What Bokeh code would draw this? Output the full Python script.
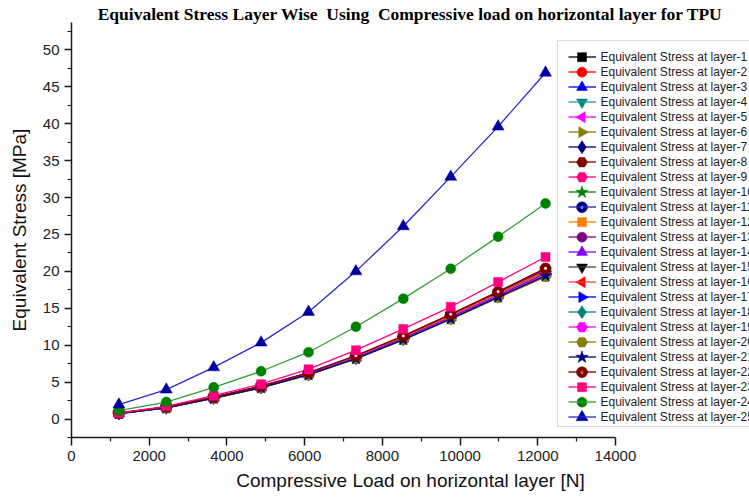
import math

from bokeh.embed import file_html
from bokeh.models import (BoxAnnotation, FixedTicker, Legend, LegendItem,
                          Range1d)
from bokeh.plotting import figure
from bokeh.resources import INLINE

# Compressive load applied on the horizontal layer [N]
load_n = [1220, 2440, 3660, 4880, 6100, 7320, 8540, 9760, 10980, 12200]

# Equivalent stress [MPa] for each layer
stress_layer_1 = [0.78, 1.58, 2.90, 4.35, 6.15, 8.40, 11.05, 13.95, 16.95, 19.95]
stress_layer_2 = [0.79, 1.60, 2.92, 4.38, 6.18, 8.45, 11.10, 14.00, 17.05, 20.10]
stress_layer_3 = [0.76, 1.55, 2.86, 4.30, 6.08, 8.30, 10.90, 13.75, 16.75, 19.70]
stress_layer_4 = [0.77, 1.56, 2.88, 4.32, 6.10, 8.33, 10.95, 13.80, 16.80, 19.75]
stress_layer_5 = [0.78, 1.57, 2.89, 4.34, 6.13, 8.38, 11.00, 13.90, 16.90, 19.85]
stress_layer_6 = [0.74, 1.52, 2.82, 4.25, 6.00, 8.20, 10.78, 13.60, 16.55, 19.45]
stress_layer_7 = [0.75, 1.53, 2.84, 4.27, 6.03, 8.24, 10.82, 13.65, 16.62, 19.55]
stress_layer_8 = [0.80, 1.62, 2.95, 4.42, 6.22, 8.50, 11.18, 14.10, 17.15, 20.30]
stress_layer_9 = [0.81, 1.63, 2.97, 4.45, 6.26, 8.55, 11.22, 14.15, 17.22, 20.40]
stress_layer_10 = [0.77, 1.56, 2.87, 4.31, 6.09, 8.32, 10.93, 13.78, 16.78, 19.72]
stress_layer_11 = [0.78, 1.58, 2.90, 4.36, 6.14, 8.40, 11.03, 13.92, 16.93, 19.90]
stress_layer_12 = [0.77, 1.57, 2.88, 4.33, 6.11, 8.35, 10.97, 13.83, 16.85, 19.80]
stress_layer_13 = [0.80, 1.61, 2.94, 4.40, 6.20, 8.47, 11.13, 14.05, 17.10, 20.20]
stress_layer_14 = [0.76, 1.54, 2.85, 4.29, 6.06, 8.27, 10.87, 13.70, 16.68, 19.62]
stress_layer_15 = [0.79, 1.61, 2.93, 4.39, 6.19, 8.46, 11.12, 14.02, 17.08, 20.15]
stress_layer_16 = [0.79, 1.59, 2.91, 4.37, 6.16, 8.42, 11.07, 13.97, 17.00, 20.02]
stress_layer_17 = [0.76, 1.55, 2.86, 4.30, 6.07, 8.29, 10.89, 13.73, 16.72, 19.66]
stress_layer_18 = [0.75, 1.53, 2.83, 4.26, 6.02, 8.22, 10.80, 13.62, 16.58, 19.50]
stress_layer_19 = [0.75, 1.54, 2.84, 4.28, 6.04, 8.25, 10.84, 13.67, 16.64, 19.58]
stress_layer_20 = [0.73, 1.50, 2.80, 4.22, 5.96, 8.14, 10.70, 13.50, 16.42, 19.25]
stress_layer_21 = [0.74, 1.52, 2.82, 4.24, 6.00, 8.19, 10.76, 13.57, 16.52, 19.40]
stress_layer_22 = [0.81, 1.64, 2.98, 4.46, 6.28, 8.58, 11.25, 14.20, 17.25, 20.40]
stress_layer_23 = [0.82, 1.72, 3.17, 4.72, 6.75, 9.32, 12.20, 15.20, 18.55, 21.95]
stress_layer_24 = [1.14, 2.30, 4.30, 6.47, 9.05, 12.50, 16.30, 20.35, 24.70, 29.20]
stress_layer_25 = [1.95, 3.98, 7.00, 10.35, 14.50, 20.00, 26.10, 32.80, 39.60, 46.90]

layer_numbers = list(range(1, 26))
x_ticks = [0, 2000, 4000, 6000, 8000, 10000, 12000, 14000]
y_ticks = [0, 5, 10, 15, 20, 25, 30, 35, 40, 45, 50]

stress_by_layer = [
    stress_layer_1, stress_layer_2, stress_layer_3, stress_layer_4, stress_layer_5,
    stress_layer_6, stress_layer_7, stress_layer_8, stress_layer_9, stress_layer_10,
    stress_layer_11, stress_layer_12, stress_layer_13, stress_layer_14, stress_layer_15,
    stress_layer_16, stress_layer_17, stress_layer_18, stress_layer_19, stress_layer_20,
    stress_layer_21, stress_layer_22, stress_layer_23, stress_layer_24, stress_layer_25,
]

# (line colour, marker colour, marker, angle, size, sphere highlight)
LEFT = math.pi / 2
RIGHT = -math.pi / 2
styles = [
    ("#000000", "#000000", "square", 0, 9, False),
    ("#ff0000", "#ff0000", "circle", 0, 10, False),
    ("#0000ff", "#0000ff", "triangle", 0, 11, False),
    ("#2a9a9a", "#008080", "inverted_triangle", 0, 11, False),
    ("#ff00ff", "#ff00ff", "triangle", LEFT, 11, False),
    ("#808000", "#808000", "triangle", RIGHT, 11, False),
    ("#000080", "#000080", "diamond", 0, 13, False),
    ("#800000", "#800000", "hex", 0, 11, False),
    ("#ff0080", "#ff0080", "hex", 0, 11, False),
    ("#008000", "#008000", "star", 0, 13, False),
    ("#2020b0", "#000080", "circle", 0, 11, True),
    ("#ff8000", "#ff8000", "square", 0, 9, False),
    ("#800080", "#800080", "circle", 0, 10, False),
    ("#8000ff", "#8000ff", "triangle", 0, 11, False),
    ("#404040", "#000000", "inverted_triangle", 0, 11, False),
    ("#ff4040", "#ff0000", "triangle", LEFT, 11, False),
    ("#0000ff", "#0000ff", "triangle", RIGHT, 11, False),
    ("#008080", "#008080", "diamond", 0, 13, False),
    ("#ff00ff", "#ff00ff", "hex", 0, 11, False),
    ("#808000", "#808000", "hex", 0, 11, False),
    ("#000080", "#000080", "star", 0, 13, False),
    ("#800000", "#800000", "circle", 0, 11, True),
    ("#ff0080", "#ff0080", "square", 0, 9, False),
    ("#30a030", "#008000", "circle", 0, 10, False),
    ("#2828c8", "#0000a0", "triangle", 0, 12, False),
]

W, H = 749, 500
FRAME_L, FRAME_T, FRAME_B = 71, 22, 63
X_END = 17450
Y_START, Y_END = -2.5, 53.7

p = figure(
    width=W, height=H,
    output_backend="svg", toolbar_location=None,
    x_range=Range1d(0, X_END), y_range=Range1d(Y_START, Y_END),
    min_border_left=FRAME_L, min_border_right=0,
    min_border_top=FRAME_T, min_border_bottom=FRAME_B,
    background_fill_color="white", border_fill_color="white",
)
p.outline_line_color = None
p.grid.visible = False

p.title.text = ("Equivalent Stress Layer Wise\u00a0\u00a0Using\u00a0\u00a0"
                "Compressive load on horizontal layer for TPU")
p.title.text_font = "Liberation Serif"
p.title.text_font_size = "17.5px"
p.title.text_font_style = "bold"
p.title.text_color = "#000000"
p.title.align = "center"
p.title.standoff = -2

# axes
for ax in (p.xaxis[0], p.yaxis[0]):
    ax.axis_line_color = "#1a1a1a"
    ax.axis_line_width = 1.5
    ax.major_tick_line_color = "#1a1a1a"
    ax.minor_tick_line_color = "#1a1a1a"
    ax.major_tick_line_width = 1.5
    ax.minor_tick_line_width = 1.2
    ax.major_tick_in = 0
    ax.minor_tick_in = 0
    ax.major_label_text_font = "Liberation Sans"
    ax.major_label_text_font_size = "15px"
    ax.major_label_text_color = "#222222"
    ax.axis_label_text_font = "Liberation Sans"
    ax.axis_label_text_font_size = "19px"
    ax.axis_label_text_font_style = "normal"
    ax.axis_label_text_color = "#111111"
    ax.major_label_standoff = 5

p.xaxis.axis_label = "Compressive Load on horizontal layer [N]"
p.xaxis.ticker = FixedTicker(ticks=x_ticks,
                             minor_ticks=[t + 1000 for t in x_ticks[:-1]])
p.xaxis.bounds = (x_ticks[0], x_ticks[-1])
p.xaxis.major_tick_out = 8
p.xaxis.minor_tick_out = 4
p.xaxis.axis_label_standoff = 6

p.yaxis.axis_label = "Equivalent Stress [MPa]"
p.yaxis.ticker = FixedTicker(ticks=y_ticks,
                             minor_ticks=[t - 2.5 for t in y_ticks] + [52.5])
p.yaxis.major_tick_out = 7
p.yaxis.minor_tick_out = 4
p.yaxis.axis_label_standoff = 10

# pixel <-> data helpers for placing the legend pieces
frame_w = W - FRAME_L
frame_h = H - FRAME_T - FRAME_B


def px_x(px):
    return (px - FRAME_L) / frame_w * X_END


def px_y(py):
    return Y_END - (py - FRAME_T) / frame_h * (Y_END - Y_START)


# legend layout (pixels)
ROW_H = 15
LEG_GLYPH_LEFT = 567.5
LEG_GLYPH_W = 28
LEG_FIRST_ROW_TOP = 49.2

# series
items = []
for i, (n, ys, st) in enumerate(zip(layer_numbers, stress_by_layer, styles)):
    lc, mc, mk, ang, sz, sphere = st
    r_line = p.line(load_n, ys, line_color=lc, line_width=1.3)
    p.scatter(load_n, ys, marker=mk, angle=ang, size=sz,
              fill_color=mc, line_color=mc, line_width=0.5)
    if sphere:
        p.scatter(load_n, ys, marker="circle", size=2.6,
                  fill_color="white", line_color="white", line_width=0.3)
    items.append(LegendItem(label=f"Equivalent Stress at layer-{n}", renderers=[r_line]))

    # full-size key marker drawn over the legend's line sample
    kx = px_x(LEG_GLYPH_LEFT + LEG_GLYPH_W / 2)
    ky = px_y(LEG_FIRST_ROW_TOP + ROW_H * (i + 0.5))
    p.scatter([kx], [ky], marker=mk, angle=ang, size=sz,
              fill_color=mc, line_color=mc, line_width=0.5, level="overlay")
    if sphere:
        p.scatter([kx], [ky], marker="circle", size=2.6,
                  fill_color="white", line_color="white", line_width=0.3,
                  level="overlay")

box = BoxAnnotation(left=px_x(557), right=px_x(800), top=px_y(40), bottom=px_y(426),
                    fill_color="white", fill_alpha=1.0,
                    line_color="#8a8a8a", line_width=1.2)
p.add_layout(box)

legend_height = ROW_H * len(items)
legend = Legend(
    items=items,
    location=(LEG_GLYPH_LEFT - FRAME_L,
              (H - FRAME_B) - (LEG_FIRST_ROW_TOP + legend_height)),
    glyph_width=LEG_GLYPH_W, glyph_height=ROW_H, label_height=ROW_H, spacing=0,
    label_standoff=5, padding=0, margin=0,
    label_text_font="Liberation Sans", label_text_font_size="12px",
    label_text_color="#222222",
    border_line_alpha=0, background_fill_alpha=0,
)
p.add_layout(legend)

open("out.html", "w").write(file_html(p, INLINE))
